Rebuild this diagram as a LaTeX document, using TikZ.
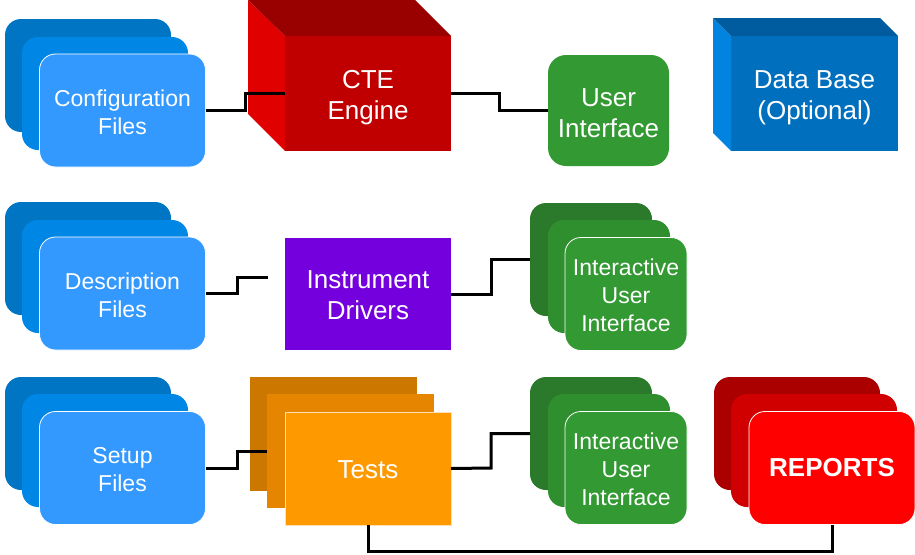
\documentclass[tikz,border=0pt]{standalone}
\usepackage{fontspec}
\setmainfont{Liberation Sans}
\definecolor{blueA}{HTML}{3399FF}
\definecolor{blueB}{HTML}{0087E6}
\definecolor{blueC}{HTML}{0075C4}
\definecolor{greenA}{HTML}{339933}
\definecolor{greenB}{HTML}{2F8F2F}
\definecolor{greenC}{HTML}{2B7A2B}
\definecolor{redA}{HTML}{FF0000}
\definecolor{redB}{HTML}{D00000}
\definecolor{redC}{HTML}{AA0000}
\definecolor{orangeA}{HTML}{FF9900}
\definecolor{orangeB}{HTML}{E68600}
\definecolor{orangeC}{HTML}{CC7700}
\definecolor{cteFront}{HTML}{C00000}
\definecolor{cteLeft}{HTML}{E00000}
\definecolor{cteTop}{HTML}{990000}
\definecolor{dbFront}{HTML}{0070BE}
\definecolor{dbLeft}{HTML}{0084E0}
\definecolor{dbTop}{HTML}{005C9E}
\definecolor{purpleA}{HTML}{7300DD}
\tikzset{
  box/.style={rectangle,inner sep=0pt,outer sep=0pt,text=white,align=center},
  fileW/.style={box,rounded corners=16pt,minimum width=166pt,minimum height=113pt},
  uiW/.style={box,rounded corners=16pt,minimum width=122pt,minimum height=113pt},
  sheetW/.style={box,minimum width=167pt,minimum height=114pt},
  frontEdge/.style={draw=white,line width=0.8pt},
  big/.style={box,font=\fontsize{26}{31}\selectfont},
  mid/.style={box,font=\fontsize{23}{28}\selectfont},
  wire/.style={draw=black,line width=3pt,line join=miter}
}
\begin{document}
\begin{tikzpicture}[x=1pt,y=-1pt]
\useasboundingbox (0,0) rectangle (915,554);
% row 1
\node[fileW,fill=blueC] (cfgC) at (88,75.5) {};
\node[fileW,fill=blueB] (cfgB) at (105,93.5) {};
\node[fileW,fill=blueA,frontEdge] (cfg) at (122.5,110.5) {};
\node[box,fill=cteFront,minimum width=166pt,minimum height=115pt] (cte) at (368,93.5) {};
\fill[cteLeft] (cte.north west) -- ++(-37,-36) -- ++(0,114) -- (cte.south west) -- cycle;
\fill[cteTop] (cte.north west) -- ++(-37,-36) -- ++(167,0) -- (cte.north east) -- cycle;
\node[box,fill=greenA,rounded corners=18pt,minimum width=121pt,minimum height=111pt] (ui) at (608.5,110.5) {};
\node[box,fill=dbFront,minimum width=167pt,minimum height=115pt] (db) at (814.5,93.5) {};
\fill[dbLeft] (db.north west) -- ++(-18,-18) -- ++(0,115) -- (db.south west) -- cycle;
\fill[dbTop] (db.north west) -- ++(-18,-18) -- ++(167,0) -- (db.north east) -- cycle;
% row 2
\node[fileW,fill=blueC] (descC) at (88,258.5) {};
\node[fileW,fill=blueB] (descB) at (105,276.5) {};
\node[fileW,fill=blueA,frontEdge] (desc) at (122.5,293.5) {};
\coordinate (descEnd) at (268,277);
\node[box,fill=purpleA,minimum width=166pt,minimum height=112pt] (drv) at (368,294) {};
\node[uiW,fill=greenC] (iuiC) at (591,259.5) {};
\node[uiW,fill=greenB] (iuiB) at (609,276.5) {};
\node[uiW,fill=greenA,frontEdge] (iui) at (626,294) {};
% row 3
\node[fileW,fill=blueC] (setC) at (88,433.5) {};
\node[fileW,fill=blueB] (setB) at (105,450.5) {};
\node[fileW,fill=blueA,frontEdge] (set) at (122.5,468) {};
\node[sheetW,fill=orangeC] (tstC) at (333.5,434) {};
\node[sheetW,fill=orangeB] (tstB) at (350.5,451) {};
\node[sheetW,fill=orangeA,draw=white!70!orangeA,line width=0.8pt,minimum width=166pt,minimum height=113pt] (tst) at (368,468.5) {};
\node[uiW,fill=greenC] (tuiC) at (591,433.5) {};
\node[uiW,fill=greenB] (tuiB) at (609,450.5) {};
\node[uiW,fill=greenA,frontEdge] (tui) at (626,468) {};
\node[fileW,fill=redC] (repC) at (797,433.5) {};
\node[fileW,fill=redB] (repB) at (814,450.5) {};
\node[fileW,fill=redA,frontEdge] (rep) at (832,468) {};
% labels
\node[mid] (cfgL) at ([yshift=-2pt]cfg.center) {Configuration\\Files};
\node[big] (cteL) at ([yshift=-4pt]cte.center) {CTE\\Engine};
\node[big] (uiL) at ([yshift=-2.5pt]ui.center) {User\\Interface};
\node[big] (dbL) at ([yshift=-4pt]db.center) {Data Base\\(Optional)};
\node[mid] (descL) at ([yshift=-2pt]desc.center) {Description\\Files};
\node[big] (drvL) at ([yshift=-1pt]drv.center) {Instrument\\Drivers};
\node[mid] (iuiL) at ([yshift=-1pt]iui.center) {Interactive\\User\\Interface};
\node[mid] (setL) at ([yshift=-2pt]set.center) {Setup\\Files};
\node[big] (tstL) at ([yshift=-1pt]tst.center) {Tests};
\node[mid] (tuiL) at ([yshift=-1pt]tui.center) {Interactive\\User\\Interface};
\node[big,font=\fontsize{26}{31}\selectfont\bfseries] (repL) at (rep.center) {REPORTS};
% connectors
\draw[wire] (cfg.east) -- (245,110.5) -- (245,93.5) -- (cte.west);
\draw[wire] (cte.east) -- (499.5,93.5) -- (499.5,110.5) -- (ui.west);
\draw[wire] (desc.east) -- (237,293.5) -- (237,277) -- (descEnd);
\draw[wire] (drv.east) -- (491,294) -- (491,259.5) -- (iuiC.west);
\draw[wire] (set.east) -- (237,468) -- (237,451) -- (tstB.west);
\draw[wire] (tst.east) -- (491,468) -- (491,433.5) -- (tuiC.west);
\draw[wire] (tst.south) -- (368,551) -- (832,551) -- (rep.south);
\end{tikzpicture}
\end{document}
